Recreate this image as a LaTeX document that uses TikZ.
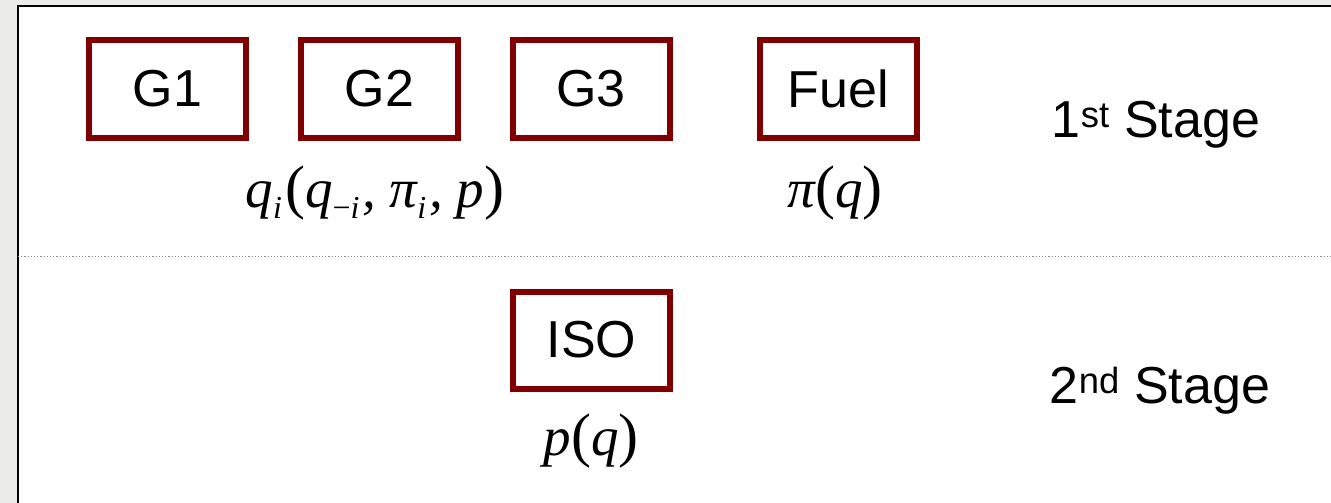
\documentclass[tikz,border=0pt]{standalone}
\usepackage{fontspec}
\setmainfont{Liberation Sans}
\newfontfamily\tms{Liberation Serif}
\definecolor{boxred}{HTML}{800000}
\definecolor{bggray}{HTML}{EBEBE8}
\tikzset{
  stagebox/.style={draw=boxred, line width=6pt, fill=white, minimum width=157pt, minimum height=97pt, inner sep=0pt, font=\fontsize{52}{52}\selectfont},
  stagetxt/.style={anchor=base, inner sep=0pt, font=\fontsize{52}{52}\selectfont},
  mathtxt/.style={anchor=base, inner sep=0pt, font=\tms\itshape\fontsize{55}{55}\selectfont}
}
\newcommand{\bigpar}[1]{{\upshape\fontsize{60}{60}\selectfont #1}}
\newcommand{\sbs}[1]{\raisebox{-11pt}{\fontsize{32}{32}\selectfont #1}\hspace{3pt}}
\begin{document}
\begin{tikzpicture}[x=1pt,y=-1pt]
\useasboundingbox (0,0) rectangle (1331,503);
\clip (0,0) rectangle (1331,503);
\fill[bggray] (0,0) rectangle (1331,503);
\draw[line width=2pt, fill=white] (17.5,6.5) rectangle (1345,520);
\draw[black!45, dotted, line width=1.2pt] (18,256.5) -- (1331,256.5);
\node[stagebox] (g1) at (167.5,89) {G1};
\node[stagebox] (g2) at (379.5,89) {G2};
\node[stagebox] (g3) at (591,89) {G3};
\node[stagebox] (fuel) at (838.5,89) {Fuel};
\node[stagebox] (iso) at (591.5,340) {ISO};
\node[mathtxt] (lq) at (375,207) {q\sbs{i}\bigpar{(}q\sbs{\upshape−\itshape i}, π\sbs{i}, p\bigpar{)}};
\node[mathtxt] (lpi) at (835,207) {π\bigpar{(}q\bigpar{)}};
\node[mathtxt] (lp) at (591,455) {p\bigpar{(}q\bigpar{)}};
\node[stagetxt] (s1) at (1156,137) {1\textsuperscript{st} Stage};
\node[stagetxt] (s2) at (1160,403) {2\textsuperscript{nd} Stage};
\end{tikzpicture}
\end{document}
